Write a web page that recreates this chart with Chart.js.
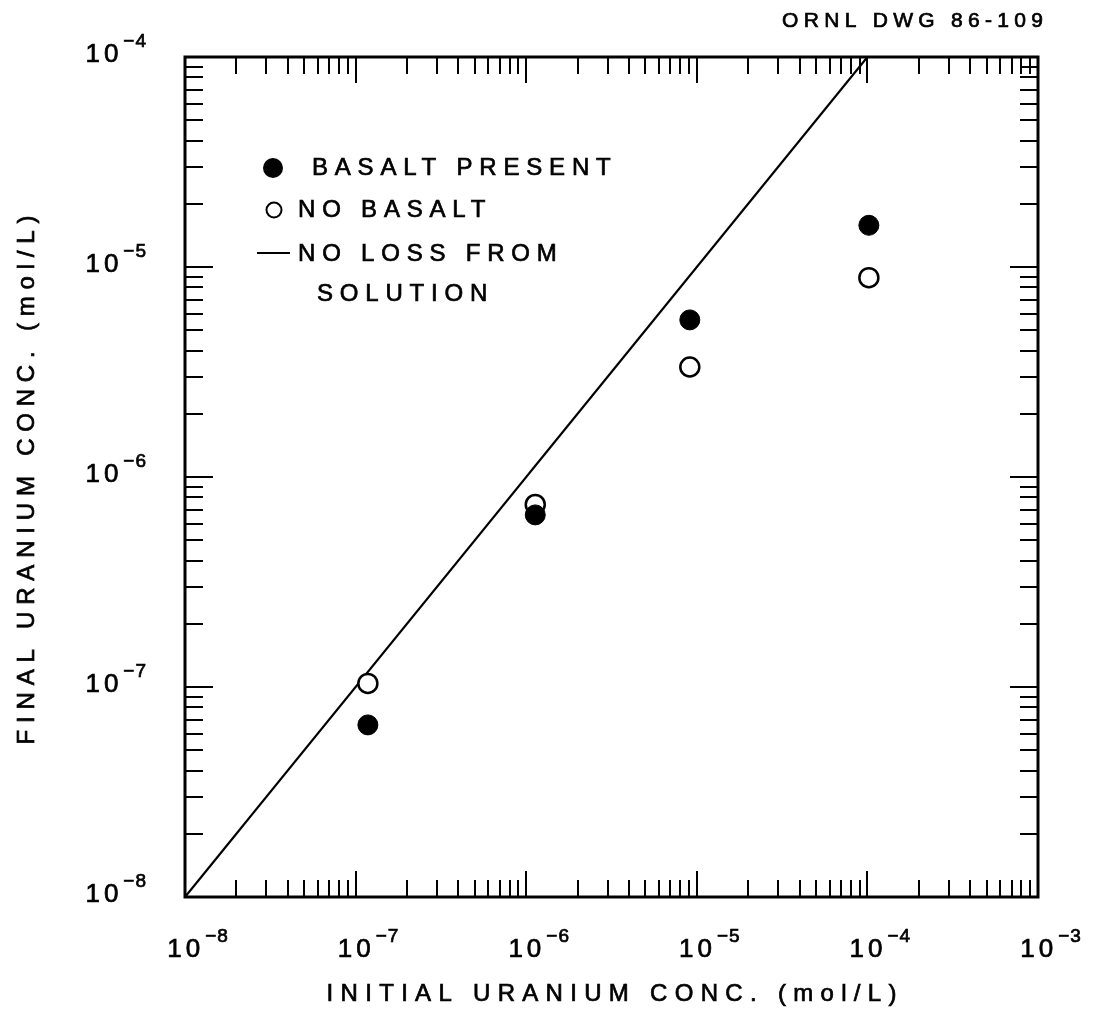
<!DOCTYPE html>
<html>
<head>
<meta charset="utf-8">
<title>Final vs initial uranium concentration</title>
<script src="https://cdn.jsdelivr.net/npm/chart.js@4.4.1/dist/chart.umd.min.js"></script>
<style>
  html, body { margin: 0; padding: 0; background: #fff; }
  #wrap { position: relative; width: 1097px; height: 1024px; }
</style>
</head>
<body>
<div id="wrap"><canvas id="chart"></canvas></div>
<script>
'use strict';

// ─────────────────────────────────────────────
// 1. DATA
// ─────────────────────────────────────────────
const initialConc   = [1.18e-7, 1.13e-6, 9.1e-6, 1.02e-4];   // mol/L
const basaltPresent = [6.6e-8, 6.6e-7, 5.6e-6, 1.58e-5];
const noBasalt      = [1.04e-7, 7.4e-7, 3.34e-6, 8.9e-6];
const noLossLine    = [1e-8, 1e-4];                          // y = x

const xTickExps = [-8, -7, -6, -5, -4, -3];
const yTickExps = [-8, -7, -6, -5, -4];

const legendLabels = ['BASALT PRESENT', 'NO BASALT', 'NO LOSS FROM', 'SOLUTION'];
const xTitle = 'INITIAL URANIUM CONC. (mol/L)';
const yTitle = 'FINAL URANIUM CONC. (mol/L)';
const drawingNo = 'ORNL DWG 86-109';

// ─────────────────────────────────────────────
// 2. HELPERS
// ─────────────────────────────────────────────
const FONT = '"Liberation Sans", Arial, Helvetica, sans-serif';

function logTicks(minExp, maxExp) {
  const out = [];
  for (let e = minExp; e < maxExp; e++) {
    for (let m = 1; m <= 9; m++) out.push({ v: m * Math.pow(10, e), major: m === 1 });
  }
  out.push({ v: Math.pow(10, maxExp), major: true });
  return out;
}

// scanned lettering is a bit heavier than a plain font: fill + thin stroke
function inkText(ctx, text, x, y) {
  ctx.fillText(text, x, y);
  ctx.lineWidth = 0.7;
  ctx.strokeText(text, x, y);
}

// "10" with a raised exponent
function drawPower(ctx, x, y, exp, align) {
  const base = '10';
  const sup = '\u2212' + Math.abs(exp);
  ctx.font = `26px ${FONT}`;
  ctx.letterSpacing = '4px';
  const wb = ctx.measureText(base).width;
  ctx.font = `19px ${FONT}`;
  ctx.letterSpacing = '1px';
  const ws = ctx.measureText(sup).width;
  const total = wb + 1 + ws;
  const x0 = align === 'center' ? x - total / 2 : x - total;
  ctx.textAlign = 'left';
  ctx.textBaseline = 'middle';
  ctx.font = `26px ${FONT}`;
  ctx.letterSpacing = '4px';
  inkText(ctx, base, x0, y);
  ctx.font = `19px ${FONT}`;
  ctx.letterSpacing = '1px';
  inkText(ctx, sup, x0 + wb + 1, y - 13);
}

function spacedText(ctx, text, x, y, size, spacing, align) {
  ctx.font = `${size}px ${FONT}`;
  ctx.letterSpacing = spacing + 'px';
  ctx.textBaseline = 'middle';
  ctx.textAlign = 'left';
  const w = ctx.measureText(text).width - spacing;
  let x0 = x;
  if (align === 'center') x0 = x - w / 2;
  if (align === 'right') x0 = x - w;
  inkText(ctx, text, x0, y);
}

// ─────────────────────────────────────────────
// 3. FRAME, INWARD TICKS, LABELS, LEGEND
// ─────────────────────────────────────────────
const framePlugin = {
  id: 'frame',
  afterDraw(chart) {
    const { ctx, chartArea: a, scales } = chart;
    const xs = scales.x, ys = scales.y;
    ctx.save();
    ctx.strokeStyle = '#000';
    ctx.fillStyle = '#000';

    // ticks on all four sides, pointing inward
    ctx.lineWidth = 2;
    ctx.beginPath();
    logTicks(xTickExps[0], xTickExps[xTickExps.length - 1]).forEach(t => {
      const px = Math.round(xs.getPixelForValue(t.v));
      const len = t.major ? 26 : 17;
      ctx.moveTo(px, a.bottom); ctx.lineTo(px, a.bottom - len);
      ctx.moveTo(px, a.top);    ctx.lineTo(px, a.top + len);
    });
    logTicks(yTickExps[0], yTickExps[yTickExps.length - 1]).forEach(t => {
      const py = Math.round(ys.getPixelForValue(t.v));
      const len = t.major ? 28 : 18;
      ctx.moveTo(a.left, py);  ctx.lineTo(a.left + len, py);
      ctx.moveTo(a.right, py); ctx.lineTo(a.right - len, py);
    });
    ctx.stroke();

    // frame
    ctx.lineWidth = 3;
    ctx.strokeRect(a.left, a.top, a.right - a.left, a.bottom - a.top);

    // tick labels
    xTickExps.forEach(e => drawPower(ctx, xs.getPixelForValue(Math.pow(10, e)) + 13, a.bottom + 53, e, 'center'));
    yTickExps.forEach(e => drawPower(ctx, a.left - 38, ys.getPixelForValue(Math.pow(10, e)) - 2, e, 'right'));

    // axis titles
    spacedText(ctx, xTitle, (a.left + a.right) / 2, 994, 24, 7.3, 'center');
    ctx.save();
    ctx.translate(27, 480);
    ctx.rotate(-Math.PI / 2);
    spacedText(ctx, yTitle, 0, 0, 24, 6.8, 'center');
    ctx.restore();

    // drawing number
    spacedText(ctx, drawingNo, 1043, 21, 21, 5.3, 'right');

    // legend
    ctx.beginPath(); ctx.arc(273, 168, 10, 0, Math.PI * 2); ctx.fill();
    spacedText(ctx, legendLabels[0], 312, 168, 24, 6.8, 'left');
    ctx.lineWidth = 2;
    ctx.beginPath(); ctx.arc(274, 210, 7.5, 0, Math.PI * 2); ctx.stroke();
    spacedText(ctx, legendLabels[1], 298, 210, 24, 6.8, 'left');
    ctx.lineWidth = 2;
    ctx.beginPath(); ctx.moveTo(257, 253); ctx.lineTo(290, 253); ctx.stroke();
    spacedText(ctx, legendLabels[2], 298, 254, 24, 6.8, 'left');
    spacedText(ctx, legendLabels[3], 317, 294, 24, 6.8, 'left');

    ctx.restore();
  },
};

// ─────────────────────────────────────────────
// 4. CHART
// ─────────────────────────────────────────────
new Chart(document.getElementById('chart').getContext('2d'), {
  type: 'scatter',
  data: {
    datasets: [
      {
        label: 'BASALT PRESENT',
        data: initialConc.map((x, i) => ({ x, y: basaltPresent[i] })),
        pointRadius: 10,
        pointBackgroundColor: '#000',
        pointBorderColor: '#000',
        pointBorderWidth: 1,
        order: 0,
      },
      {
        label: 'NO BASALT',
        data: initialConc.map((x, i) => ({ x, y: noBasalt[i] })),
        pointRadius: 9.5,
        pointBackgroundColor: '#fff',
        pointBorderColor: '#000',
        pointBorderWidth: 2.5,
        order: 1,
      },
      {
        label: 'NO LOSS FROM SOLUTION',
        type: 'line',
        data: noLossLine.map(v => ({ x: v, y: v })),
        borderColor: '#000',
        borderWidth: 2.2,
        pointRadius: 0,
        fill: false,
        order: 2,
      },
    ],
  },
  options: {
    responsive: true,
    maintainAspectRatio: false,
    animation: false,
    layout: { padding: { left: 185, right: 59, top: 57, bottom: 127 } },
    plugins: { legend: { display: false }, tooltip: { enabled: false } },
    scales: {
      x: { type: 'logarithmic', min: 1e-8, max: 1e-3, display: false },
      y: { type: 'logarithmic', min: 1e-8, max: 1e-4, display: false },
    },
  },
  plugins: [framePlugin],
});
</script>
</body>
</html>
